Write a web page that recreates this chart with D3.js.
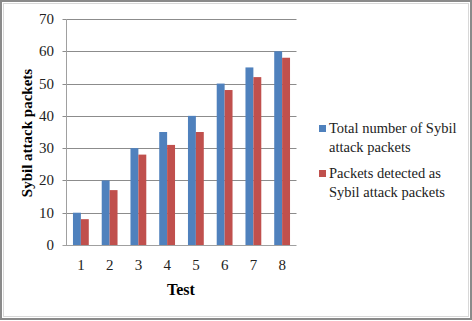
<!DOCTYPE html>
<html lang="en">
  <head>
    <meta charset="utf-8" />
    <title>Sybil attack packets</title>
    <script type="text/javascript" src="https://cdn.jsdelivr.net/npm/d3@7"></script>
    <style type="text/css">
      body { margin: 0; background: #fff; }
      svg { display: block; font-family: "Liberation Serif", "Times New Roman", serif; }
    </style>
  </head>

  <body>
    <script type="text/javascript">
      const tests = ["1", "2", "3", "4", "5", "6", "7", "8"];
      const totalPackets = [10, 20, 30, 35, 40, 50, 55, 60];
      const detectedPackets = [8, 17, 28, 31, 35, 48, 52, 58];
      const yTicks = [0, 10, 20, 30, 40, 50, 60, 70];
      const seriesNames = [
        ["Total number of Sybil", "attack packets"],
        ["Packets detected as", "Sybil attack packets"]
      ];
      const colors = ["#4f81bd", "#c0504d"];

      const W = 472, H = 321;
      const plotL = 66.5, plotR = 296.5, plotT = 19, plotB = 245;

      const svg = d3.select("body").append("svg")
        .attr("width", W).attr("height", H);

      // frame
      svg.append("rect").attr("x", 1).attr("y", 1)
        .attr("width", W - 2).attr("height", H - 3)
        .attr("fill", "#fff").attr("stroke", "#8a8a8a").attr("stroke-width", 2);
      svg.append("rect").attr("x", 3.5).attr("y", 3.5)
        .attr("width", W - 7).attr("height", H - 8)
        .attr("fill", "none").attr("stroke", "#d8d8d8").attr("stroke-width", 1);

      const x = d3.scaleBand().domain(tests).range([plotL, plotR]).paddingInner(0.45).paddingOuter(0.225);
      const x1 = d3.scaleBand().domain([0, 1]).range([0, x.bandwidth()]);
      const y = d3.scaleLinear().domain([0, 70]).range([plotB, plotT]);

      // gridlines
      svg.append("g").selectAll("line").data(yTicks).enter().append("line")
        .attr("x1", plotL - 4).attr("x2", plotR)
        .attr("y1", d => Math.round(y(d)) + 0.5).attr("y2", d => Math.round(y(d)) + 0.5)
        .attr("stroke", d => d === 0 ? "#a0a0a0" : "#8c8c8c").attr("stroke-width", 1);

      // y axis line
      svg.append("line").attr("x1", plotL).attr("x2", plotL)
        .attr("y1", plotT).attr("y2", plotB + 0.5)
        .attr("stroke", "#a0a0a0");

      // bars
      const groups = svg.append("g").selectAll("g").data(tests).enter().append("g")
        .attr("transform", d => "translate(" + x(d) + ",0)");
      groups.selectAll("rect")
        .data((d, i) => [totalPackets[i], detectedPackets[i]])
        .enter().append("rect")
        .attr("x", (d, j) => x1(j))
        .attr("width", x1.bandwidth())
        .attr("y", d => y(d))
        .attr("height", d => y(0) - y(d))
        .attr("fill", (d, j) => colors[j]);

      // y tick labels
      svg.append("g").selectAll("text").data(yTicks).enter().append("text")
        .attr("x", 54).attr("y", d => y(d) + 5)
        .attr("text-anchor", "end").attr("font-size", 15).attr("fill", "#222")
        .text(d => d);

      // x tick labels
      svg.append("g").selectAll("text").data(tests).enter().append("text")
        .attr("x", d => x(d) + x.bandwidth() / 2).attr("y", 270)
        .attr("text-anchor", "middle").attr("font-size", 15).attr("fill", "#222")
        .text(d => d);

      // axis titles
      svg.append("text").attr("x", 181).attr("y", 295)
        .attr("text-anchor", "middle").attr("font-size", 16).attr("font-weight", "bold")
        .text("Test");
      svg.append("text")
        .attr("transform", "translate(32,133) rotate(-90)")
        .attr("text-anchor", "middle").attr("font-size", 15).attr("font-weight", "bold")
        .text("Sybil  attack packets");

      // legend
      const legend = svg.append("g").selectAll("g").data(seriesNames).enter().append("g")
        .attr("transform", (d, i) => "translate(319," + (128 + i * 45) + ")");
      legend.append("rect").attr("x", 0).attr("y", -3).attr("width", 7).attr("height", 7)
        .attr("fill", (d, i) => colors[i]);
      legend.selectAll("text").data(d => d).enter().append("text")
        .attr("x", 10).attr("y", (d, k) => 5 + k * 19)
        .attr("font-size", 14.5).attr("fill", "#222")
        .text(d => d);
    </script>
  </body>
</html>
